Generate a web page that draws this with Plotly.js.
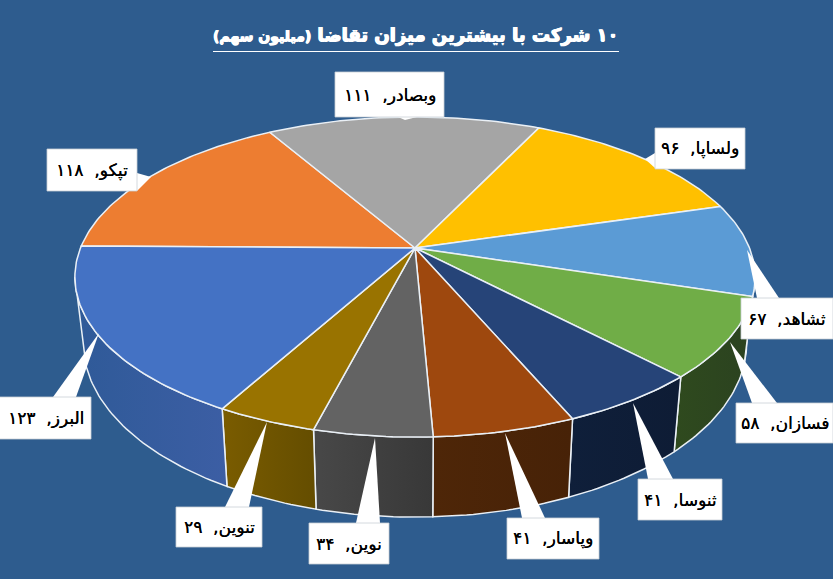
<!DOCTYPE html>
<html>
<head>
<meta charset="utf-8">
<script src="https://cdn.plot.ly/plotly-3.0.1.min.js"></script>
<style>html,body{margin:0;padding:0;background:#2E5C8E;overflow:hidden}#chart{width:833px;height:579px}</style>
</head>
<body>
<div id="chart"></div>
<script>
// ---- data (clockwise, starting on the left of the pie) ----
var names = ["تپکو","وبصادر","ولساپا","ثشاهد","فسازان","ثنوسا","وپاسار","نوین","تنوین","البرز"];
var values = [118,111,96,67,58,41,41,34,29,123];
var valueLabels = ["۱۱۸","۱۱۱","۹۶","۶۷","۵۸","۴۱","۴۱","۳۴","۲۹","۱۲۳"];
var titleMain = "۱۰ شرکت با بیشترین میزان تقاضا";
var titleSub = "(میلیون سهم)";

// ---- styles ----
var topColors  = ["#ED7D31","#A5A5A5","#FFC000","#5B9BD5","#70AD47","#264478","#9E480E","#636363","#997300","#4472C4"];
var wallFrom   = ["#8a4a1c","#626262","#997300","#3a6590","#2f4a1e","#0f1f3a","#4e2608","#484848","#7a5c00","#2f5a98"];
var wallTo     = ["#8a4a1c","#626262","#997300","#345b83","#2b4220","#0e1c35","#472207","#383838","#644d00","#3c5ea4"];
var bg = "#2E5C8E", edge = "#EAF0F6";

// ---- label boxes and leader wedges: [x0,y0,x1,y1] and [tipX,tipY,b1X,b1Y,b2X,b2Y] ----
var boxes = [[47,149,137,191],[335,72,444,117],[655,128,745,169],[741,298,833,339],[736,403,833,443],
             [638,479,722,520],[507,518,599,559],[309,523,389,564],[176,507,262,547],[-2,397,91,439]];
var wedges = [[151,177,137,173,137,191],[405,120,398,117,417,117],[645,159,655,153,655,168],[747,250,757,298,779,298],
              [730,342,752,403,777,403],[633,403,648,479,673,479],[505,433,522,518,545,518],[375,438,356,523,380,523],
              [267,422,225,507,249,507],[99,333,53,397,76,397]];

// ---- perspective disc ----
var cx=415, cy=248, A=334.5, B=154.8, K=-0.181;
function project(deg){
  var t=deg*Math.PI/180, u=Math.sin(t), v=-Math.cos(t), d=1+K*v;
  return [A*u/d, B*v/d];
}
function upper(deg){var p=project(deg);return [cx+p[0],cy+p[1]];}
function lower(deg){var p=project(deg);return [cx+0.975*p[0],cy+1.085*p[1]+64];}
function arc(fn,a,b){var r=[],n=Math.max(2,Math.ceil(Math.abs(b-a)));for(var i=0;i<=n;i++){r.push(fn(a+(b-a)*i/n));}return r;}
function xs(p){return p.map(function(q){return q[0];});}
function ys(p){return p.map(function(q){return q[1];});}

var total=values.reduce(function(s,v){return s+v;},0);
var start=270.7, edges=[start];
values.forEach(function(v,i){edges.push(edges[i]+v/total*360);});

var limR=100.4, limL=259.6; // silhouette angles of the wall
var traces=[];
values.forEach(function(v,i){
  var e0=edges[i]%360, e1=e0+(edges[i+1]-edges[i]);
  var a=Math.max(e0,limR), b=Math.min(e1,limL);
  if(b<=a) return;
  var poly=arc(upper,a,b).concat(arc(lower,b,a)); poly.push(poly[0]);
  traces.push({type:"scatter",mode:"lines",x:xs(poly),y:ys(poly),fill:"toself",
    fillgradient:{type:"horizontal",colorscale:[[0,wallFrom[i]],[1,wallTo[i]]]},
    line:{color:edge,width:1.5},hoverinfo:"skip",showlegend:false});
});
values.forEach(function(v,i){
  var poly=[[cx,cy]].concat(arc(upper,edges[i],edges[i+1])); poly.push([cx,cy]);
  traces.push({type:"scatter",mode:"lines",x:xs(poly),y:ys(poly),fill:"toself",fillcolor:topColors[i],
    line:{color:edge,width:1.5},hoverinfo:"skip",showlegend:false});
});

var shapes=[{type:"line",xref:"x",yref:"y",x0:213,x1:619,y0:51.5,y1:51.5,line:{color:"#FFFFFF",width:1}}];
wedges.forEach(function(w){
  shapes.push({type:"path",xref:"x",yref:"y",layer:"above",
    path:"M"+w[0]+" "+w[1]+"L"+w[2]+" "+w[3]+"L"+w[4]+" "+w[5]+"Z",fillcolor:"#FFFFFF",line:{width:0}});
});
boxes.forEach(function(b){
  shapes.push({type:"rect",xref:"x",yref:"y",layer:"above",x0:b[0],y0:b[1],x1:b[2],y1:b[3],
    fillcolor:"#FFFFFF",line:{color:"#C9CFD6",width:0.8}});
});
var annotations=names.map(function(n,i){
  var b=boxes[i];
  return {xref:"x",yref:"y",x:(Math.max(b[0],0)+b[2])/2,y:(b[1]+b[3])/2,showarrow:false,xanchor:"center",yanchor:"middle",
    text:"\u200F"+n+",\u00A0\u00A0"+valueLabels[i]+"\u200F",
    font:{family:"'DejaVu Sans'",size:17,color:"#000000",shadow:"0.3px 0 0 #000"}};
});
annotations.push({xref:"x",yref:"y",x:416,y:35,showarrow:false,xanchor:"center",yanchor:"middle",
  text:"\u200F"+titleMain+" <span style=\"font-size:14px\">"+titleSub+"</span>\u200F",
  font:{family:"'DejaVu Sans'",size:18,color:"#FFFFFF",weight:700,shadow:"0.6px 0 0 #fff, -0.6px 0 0 #fff, 0 0.5px 0 #fff"}});

Plotly.newPlot("chart",traces,{
  width:833,height:579,margin:{l:0,r:0,t:0,b:0},
  paper_bgcolor:bg,plot_bgcolor:bg,showlegend:false,
  xaxis:{range:[0,833],visible:false,fixedrange:true},
  yaxis:{range:[579,0],visible:false,fixedrange:true},
  shapes:shapes,annotations:annotations
},{displayModeBar:false,staticPlot:true});
</script>
</body>
</html>
